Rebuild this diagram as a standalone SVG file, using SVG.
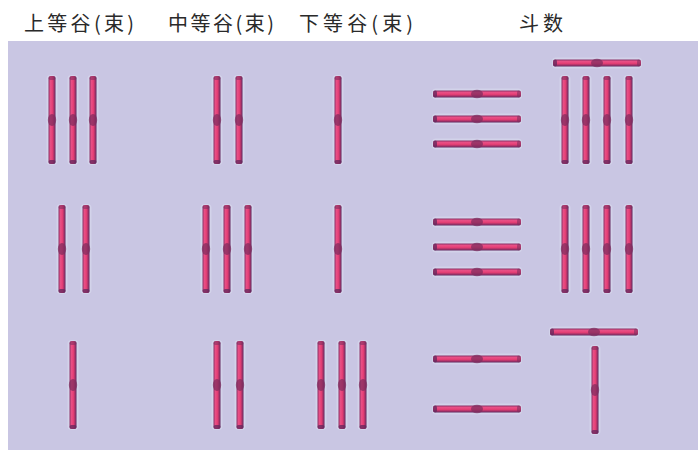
<svg xmlns="http://www.w3.org/2000/svg" width="698" height="457" viewBox="0 0 698 457">
  <style>
    .hdr { font-family: "Noto Sans CJK SC", "Noto Sans CJK JP", serif; font-size: 20px; fill: #2a2a2a; font-weight: 400; }
  </style>
  <defs>
    <linearGradient id="gv" x1="0" y1="0" x2="1" y2="0">
      <stop offset="0" stop-color="#8e3468"/>
      <stop offset="0.3" stop-color="#ec4f86"/>
      <stop offset="0.6" stop-color="#e03c72"/>
      <stop offset="1" stop-color="#62285e"/>
    </linearGradient>
    <g id="rod">
      <rect x="-5.5" y="-45" width="11" height="90" rx="4" fill="#dde0f2" opacity="0.5"/>
      <rect x="-3.5" y="-44" width="7" height="88" rx="2.5" fill="url(#gv)"/>
      <ellipse cx="0" cy="0" rx="4.2" ry="6" fill="#7c2c5e" opacity="0.7"/>
      <rect x="-3.5" y="-44" width="7" height="4" rx="2" fill="#7a2d5e" opacity="0.55"/>
      <rect x="-3.5" y="40" width="7" height="4" rx="2" fill="#62285e" opacity="0.75"/>
    </g>
  </defs>
  <rect width="698" height="457" fill="#ffffff"/>
  <rect x="8" y="41" width="690" height="409" fill="#c9c6e3"/>

  <g id="headers">
    <text class="hdr" x="24" y="31" textLength="110" lengthAdjust="spacing">上等谷(束)</text>
    <text class="hdr" x="168" y="31" textLength="106" lengthAdjust="spacing">中等谷(束)</text>
    <text class="hdr" x="299" y="31" textLength="114" lengthAdjust="spacing">下等谷(束)</text>
    <text class="hdr" x="519" y="31" textLength="44" lengthAdjust="spacing">斗数</text>
  </g>

  <g id="r1-upper"><use href="#rod" x="52" y="120"/><use href="#rod" x="73" y="120"/><use href="#rod" x="93" y="120"/></g>
  <g id="r1-middle"><use href="#rod" x="217" y="120"/><use href="#rod" x="239" y="120"/></g>
  <g id="r1-lower"><use href="#rod" x="338" y="120"/></g>
  <g id="r1-dou">
    <use href="#rod" transform="translate(477 94) rotate(90)"/>
    <use href="#rod" transform="translate(477 119) rotate(90)"/>
    <use href="#rod" transform="translate(477 144) rotate(90)"/>
    <use href="#rod" transform="translate(597 63) rotate(90)"/>
    <use href="#rod" x="565" y="120"/><use href="#rod" x="586" y="120"/><use href="#rod" x="607" y="120"/><use href="#rod" x="629" y="120"/>
  </g>

  <g id="r2-upper"><use href="#rod" x="62" y="249"/><use href="#rod" x="86" y="249"/></g>
  <g id="r2-middle"><use href="#rod" x="206" y="249"/><use href="#rod" x="227" y="249"/><use href="#rod" x="248" y="249"/></g>
  <g id="r2-lower"><use href="#rod" x="338" y="249"/></g>
  <g id="r2-dou">
    <use href="#rod" transform="translate(477 222) rotate(90)"/>
    <use href="#rod" transform="translate(477 247) rotate(90)"/>
    <use href="#rod" transform="translate(477 272) rotate(90)"/>
    <use href="#rod" x="565" y="249"/><use href="#rod" x="586" y="249"/><use href="#rod" x="607" y="249"/><use href="#rod" x="629" y="249"/>
  </g>

  <g id="r3-upper"><use href="#rod" x="73" y="385"/></g>
  <g id="r3-middle"><use href="#rod" x="217" y="385"/><use href="#rod" x="240" y="385"/></g>
  <g id="r3-lower"><use href="#rod" x="321" y="385"/><use href="#rod" x="342" y="385"/><use href="#rod" x="363" y="385"/></g>
  <g id="r3-dou">
    <use href="#rod" transform="translate(477 359) rotate(90)"/>
    <use href="#rod" transform="translate(477 409) rotate(90)"/>
    <use href="#rod" transform="translate(594 332) rotate(90)"/>
    <use href="#rod" x="595" y="390"/>
  </g>
</svg>
